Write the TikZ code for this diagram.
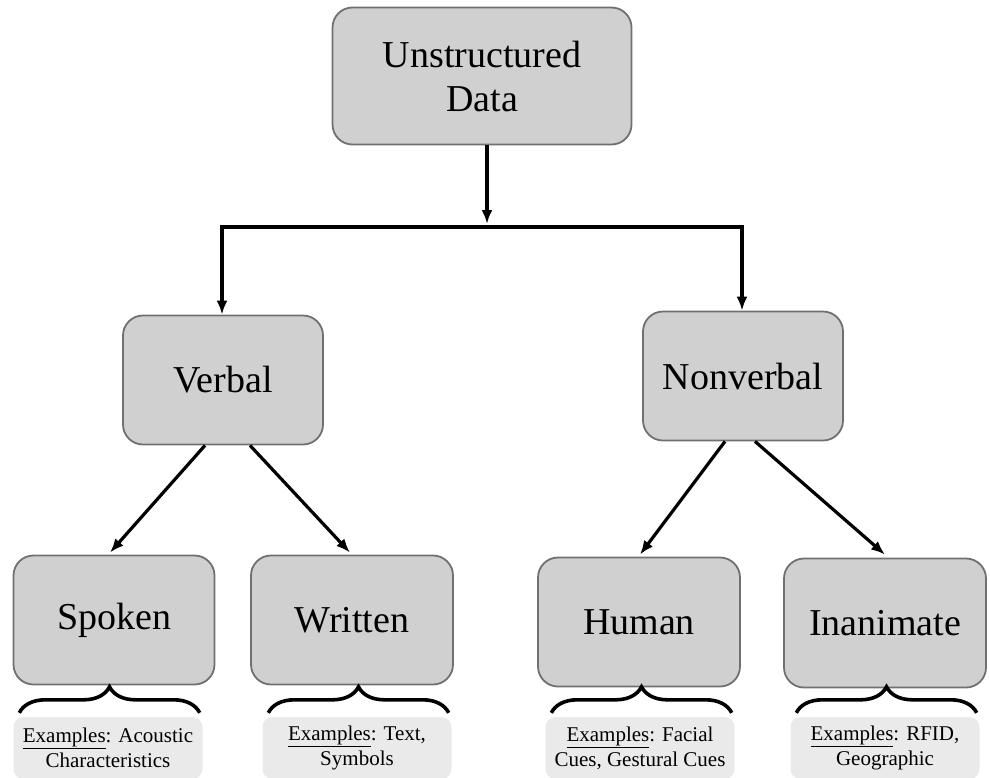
\documentclass[tikz,border=0pt]{standalone}
\usepackage{fontspec}
\setmainfont{Liberation Serif}
\usepackage{tikz}
\usetikzlibrary{calc}
\usetikzlibrary{arrows.meta}
\usetikzlibrary{decorations.pathreplacing}
\definecolor{boxgray}{RGB}{208, 208, 208}
\definecolor{edgegray}{RGB}{112, 112, 112}
\definecolor{examplegray}{RGB}{234, 234, 234}
\tikzset{
  catbox/.style={draw=edgegray, fill=boxgray, line width=1.8pt, rounded corners=20pt,
    minimum width=200pt, minimum height=129pt, inner sep=0pt, align=center,
    font=\fontsize{38}{44}\selectfont},
  exbox/.style={fill=examplegray, rounded corners=10pt, minimum width=189pt,
    minimum height=62pt, inner sep=0pt, align=center,
    font=\fontsize{21}{25}\selectfont},
  link/.style={line width=3.2pt, -{Latex[length=14pt, width=11pt]}},
  bracket/.style={line width=3.6pt, decorate, decoration={brace, amplitude=26pt, aspect=0.5}}
}
\begin{document}
\begin{tikzpicture}[x=1pt, y=-1pt]
  \useasboundingbox (0,0) rectangle (990,777);
  % category boxes
  \node[catbox, minimum width=299pt, minimum height=137pt] (data) at (482, 76) {Unstructured\\Data};
  \node[catbox] (verbal)    at (223, 380) {Verbal};
  \node[catbox] (nonverbal) at (743, 376) {Nonverbal};
  \node[catbox, minimum width=201pt] (spoken)    at (114, 620) {Spoken};
  \node[catbox, minimum width=202pt] (written)   at (352, 620) {Written};
  \node[catbox, minimum width=202pt] (human)     at (639, 622) {Human};
  \node[catbox, minimum width=202pt] (inanimate) at (885, 623) {Inanimate};
  % example boxes
  \node[exbox] (spokenex)    at (108, 748) {\underline{Examples}: Acoustic\\Characteristics};
  \node[exbox] (writtenex)   at (357, 748) {\underline{Examples}: Text,\\Symbols};
  \node[exbox] (humanex)     at (640, 748) {\underline{Examples}: Facial\\Cues, Gestural Cues};
  \node[exbox] (inanimateex) at (885, 748) {\underline{Examples}: RFID,\\Geographic};
  % tree connectors
  \coordinate (split) at (487, 227);
  \coordinate (splitleft) at (222, 227);
  \coordinate (splitright) at (742, 227);
  \draw[link] (data.south -| split) -- ($(split)+(0,-3)$);
  \draw[line width=3.2pt] ($(splitleft)+(-1.6,0)$) -- ($(splitright)+(1.6,0)$);
  \draw[link] (splitleft) -- (verbal.north -| splitleft);
  \draw[link] (splitright) -- (nonverbal.north -| splitright);
  \draw[link] ($(verbal.south)+(-18,0)$) -- ($(spoken.north)+(-4,-2)$);
  \draw[link] ($(verbal.south)+(27,0)$) -- ($(written.north)+(-2,-2)$);
  \draw[link] ($(nonverbal.south)+(-18,0)$) -- ($(human.north)+(1,-2)$);
  \draw[link] ($(nonverbal.south)+(12,0)$) -- ($(inanimate.north)+(0,-3)$);
  % braces
  \foreach \ex in {spokenex, writtenex, humanex, inanimateex}
    \draw[bracket] ($(\ex.north west)+(6,-4)$) -- ($(\ex.north east)+(-3,-4)$);
\end{tikzpicture}
\end{document}
